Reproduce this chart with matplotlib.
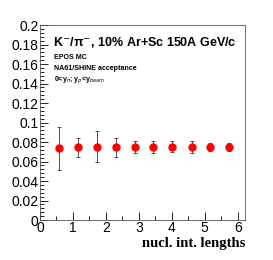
import numpy as np
import matplotlib
matplotlib.use("Agg")
import matplotlib.pyplot as plt
from matplotlib.ticker import MultipleLocator

# Data
lengths = [0.585, 1.16, 1.74, 2.30, 2.88, 3.44, 4.02, 4.60, 5.16, 5.74]
ratio = [0.0735, 0.0746, 0.0752, 0.0746, 0.0746, 0.0748, 0.0752, 0.0748, 0.0750, 0.0750]
ratio_err = [0.022, 0.0098, 0.016, 0.0098, 0.0063, 0.0063, 0.0055, 0.006, 0.0043, 0.004]

fig = plt.figure(figsize=(2.73, 2.6), dpi=100)
ax = fig.add_axes([0.1465, 0.1538, 0.7509, 0.75])

ax.errorbar(lengths, ratio, yerr=ratio_err, fmt='o', color='red', markersize=5,
            ecolor='#333333', elinewidth=0.6, capsize=1.2, capthick=0.6)

ax.set_xlim(0, 6.22)
ax.set_ylim(0, 0.2)

ax.xaxis.set_major_locator(MultipleLocator(1))
ax.xaxis.set_minor_locator(MultipleLocator(0.5))
ax.yaxis.set_major_locator(MultipleLocator(0.02))
ax.yaxis.set_minor_locator(MultipleLocator(0.004))
ax.tick_params(which='both', direction='in', top=False, right=False, labelsize=10, pad=1)
ax.tick_params(axis='x', pad=1)
ax.tick_params(which='major', length=6, width=0.6)
ax.tick_params(which='minor', length=3, width=0.6)
ax.set_yticks(np.arange(0, 0.201, 0.02))
ax.set_yticklabels(['0', '0.02', '0.04', '0.06', '0.08', '0.1', '0.12', '0.14', '0.16', '0.18', '0.2'])
for lab in ax.get_xticklabels() + ax.get_yticklabels():
    lab.set_family(['Liberation Sans Narrow', 'Liberation Sans'])
for s in ax.spines.values():
    s.set_linewidth(0.6)
    s.set_color('#555555')

ax.text(0.065, 0.908, 'K$^{-}$/π$^{-}$, 10% Ar+Sc 150A GeV/c', transform=ax.transAxes,
        fontsize=9.0, fontweight='bold', family='Liberation Sans', va='center')
ax.text(0.07, 0.831, 'EPOS MC', transform=ax.transAxes, fontsize=5.1,
        fontweight='bold', family='Liberation Sans', va='center')
ax.text(0.07, 0.779, 'NA61/SHINE acceptance', transform=ax.transAxes, fontsize=5.1,
        fontweight='bold', family='Liberation Sans', va='center')
ax.text(0.07, 0.718, r'0<y$_{\pi}$; y$_{p}$<y$_{beam}$', transform=ax.transAxes, fontsize=5.1,
        fontweight='bold', family='Liberation Sans', va='center')

fig.text(0.90, 0.062, 'nucl. int. lengths', ha='right', va='center', fontsize=10.5,
         fontweight='bold', family='Liberation Serif')

fig.savefig('out.png', dpi=100)
